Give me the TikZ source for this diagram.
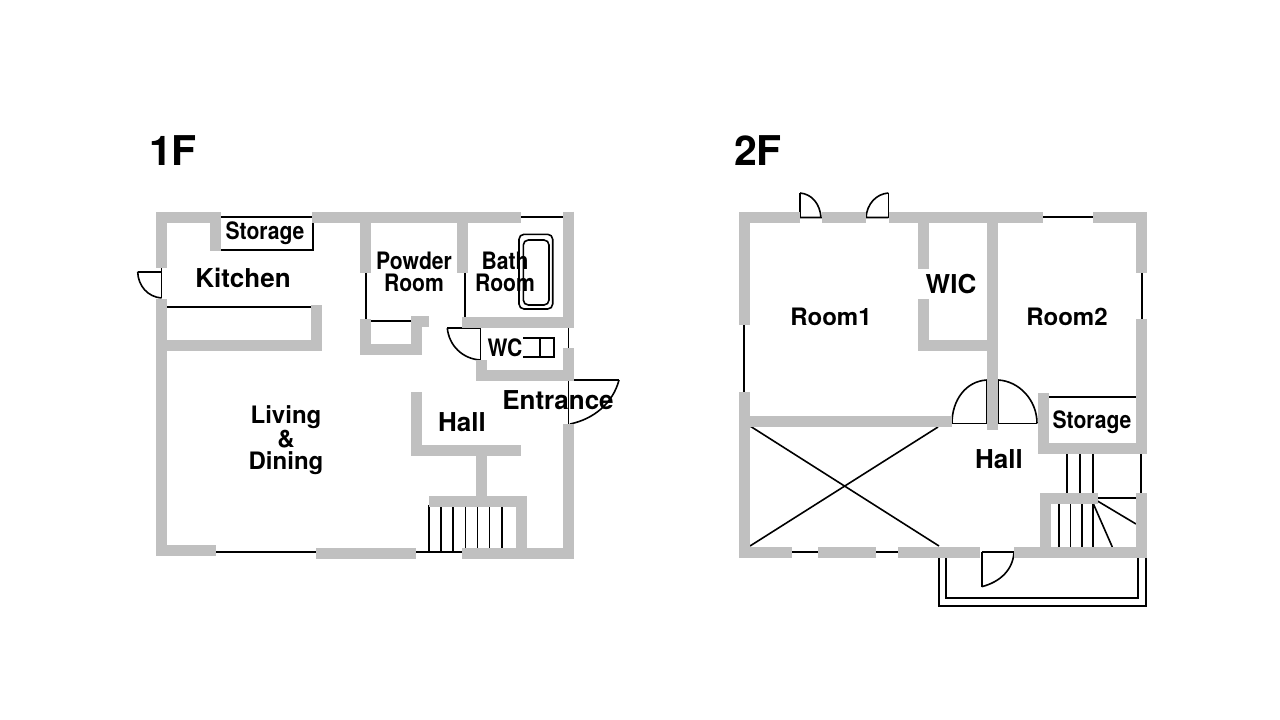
\documentclass[tikz,border=0pt]{standalone}
\usepackage{fontspec}
\setmainfont{TeX Gyre Heros}
\definecolor{wallgray}{RGB}{192,192,192}
\tikzset{wall/.style={draw=wallgray,line width=11pt},
         thin/.style={draw=black,line width=1.6pt},
         room/.style={font=\bfseries\fontsize{24}{22}\selectfont,align=center,inner sep=0pt},
         bigroom/.style={font=\bfseries\fontsize{26}{26}\selectfont,align=center,inner sep=0pt},
         small/.style={font=\bfseries\fontsize{24}{22}\selectfont,align=center,inner sep=0pt,xscale=.88},
         title/.style={font=\bfseries\fontsize{41}{41}\selectfont,inner sep=0pt}}
\begin{document}
\begin{tikzpicture}[x=1pt,y=-1pt]
\useasboundingbox (0,0) rectangle (1280,720);
% 1F thin lines
\draw[thin] (221,217) -- (313,217) -- (313,250) -- (221,250);
\draw[thin] (161.5,268) -- (161.5,298) (137.7,271.7) -- (161.5,271.7);
\draw[thin] (137.7,271.7) .. controls (138,286) and (148,297) .. (161.5,298);
\draw[thin] (167,306.7) -- (311,306.7);
\draw[thin] (366,272) -- (366,320) (370,320.7) -- (411,320.7);
\draw[thin] (465,272) -- (465,317) (521,217) -- (563,217);
\draw[thin] (447.3,328) -- (480.5,328) -- (480.5,360);
\draw[thin] (447.3,328) .. controls (449,346) and (463,359) .. (480.5,360);
\draw[thin] (568.3,327) -- (568.3,348) (568.3,381) -- (568.3,424);
\draw[thin] (568.3,380) -- (619,380);
\draw[thin] (619,380) .. controls (613,403) and (594,419) .. (570,424);
\draw[thin] (216,551.7) -- (316,551.7) (416,551.7) -- (462,551.7);
\foreach \sx in {429,441,453,465.5,477.5,489.5,502} \draw[thin] (\sx,505) -- (\sx,552);
% tub and toilet
\draw[thin,rounded corners=5pt] (519,234.3) rectangle (552.7,309);
\draw[thin,rounded corners=5pt] (523.3,240) rectangle (549,305);
\draw[thin] (523,338) -- (554,338) -- (554,357) -- (523,357) (540,338) -- (540,357);
% 1F walls
\draw[wall] (161.5,267.7) -- (161.5,217.5) -- (221,217.5);
\draw[wall] (215.5,217.5) -- (215.5,251);
\draw[wall] (312,217.5) -- (521,217.5);
\draw[wall] (161.5,299) -- (161.5,550) -- (216,550);
\draw[wall] (161.5,345.5) -- (316.5,345.5) -- (316.5,305);
\draw[wall] (365,217.5) -- (365,272.7);
\draw[wall] (462,217.5) -- (462,272.7);
\draw[wall] (365,319.3) -- (365,349) -- (416,349) -- (416,321) -- (429,321);
\draw[wall] (568.5,211.7) -- (568.5,322) -- (461.7,322);
\draw[wall] (568.5,348) -- (568.5,375.5) -- (481.5,375.5) -- (481.5,360);
\draw[wall] (568.5,424) -- (568.5,553) -- (461.7,553);
\draw[wall] (316,553.5) -- (416,553.5);
\draw[wall] (416,392.3) -- (416,450.5) -- (521,450.5);
\draw[wall] (481.5,450.5) -- (481.5,501.5);
\draw[wall] (429,501.5) -- (521,501.5) -- (521,553);
% 2F thin lines
\draw[thin] (800,217.5) -- (800,193);
\draw[thin] (800,193) .. controls (812,194) and (820,204) .. (821,217.5) -- (800,217.5);
\draw[thin] (888.3,217.5) -- (888.3,193);
\draw[thin] (888.3,193) .. controls (876,194) and (867,204) .. (866,217.5) -- (888.3,217.5);
\draw[thin] (1043,217) -- (1093,217) (744,325) -- (744,392);
\draw[thin] (1141.7,272) -- (1141.7,320) (1048,396.7) -- (1136,396.7);
\draw[thin] (987,380) -- (987,423.3) -- (952,423.3);
\draw[thin] (987,380) .. controls (966,381) and (952,400) .. (952,423.3);
\draw[thin] (998,380) -- (998,423.3) -- (1037,423.3);
\draw[thin] (998,380) .. controls (1019,381) and (1037,400) .. (1037,423.3);
\foreach \sx in {1066.7,1080,1093} \draw[thin] (\sx,453) -- (\sx,493);
\draw[thin] (1141,453) -- (1141,493) (1098,497.7) -- (1136,497.7);
\foreach \sx in {1059,1070.3,1081.7,1093} \draw[thin] (\sx,503) -- (\sx,547);
\draw[thin] (1097,500.7) -- (1136,524) (1093,503) -- (1112.3,547);
\draw[thin] (981.7,552) -- (1014,552) (981.7,552) -- (981.7,586.7);
\draw[thin] (1014,552) .. controls (1013,570) and (1000,582) .. (981.7,586.7);
\draw[thin] (939,557) -- (939,606) -- (1145.7,606) -- (1145.7,557);
\draw[thin] (946,557) -- (946,598) -- (1138,598) -- (1138,557);
\draw[thin] (750,426) -- (939,546) (750,546) -- (938,427);
\draw[thin] (792,552) -- (818,552) (876,552) -- (898,552);
% 2F walls
\draw[wall] (744,325) -- (744,217.3) -- (800,217.3);
\draw[wall] (822.3,217.3) -- (866,217.3);
\draw[wall] (888.7,217.3) -- (1043,217.3);
\draw[wall] (1093,217.3) -- (1141.5,217.3) -- (1141.5,272.7);
\draw[wall] (923,217.3) -- (923,269.3);
\draw[wall] (923,299) -- (923,345.5) -- (992.5,345.5);
\draw[wall] (992.5,217.3) -- (992.5,430);
\draw[wall] (744,392) -- (744,552) -- (792,552);
\draw[wall] (744,421) -- (952,421);
\draw[wall] (818,552) -- (876,552);
\draw[wall] (898,552) -- (980,552);
\draw[wall] (1141.5,319.3) -- (1141.5,448) -- (1043,448) -- (1043,392.7);
\draw[wall] (1098,498) -- (1045.5,498) -- (1045.5,552);
\draw[wall] (1014,552) -- (1141.5,552) -- (1141.5,493);
% labels
\node[title] (title1) at (173,151) {1F};
\node[title] (title2) at (758,151) {2F};
\node[small] (storage1) at (265,233) {Storage};
\node[bigroom] (kitchen) at (243,278) {Kitchen};
\node[small] (powder) at (414,272) {Powder\\Room};
\node[small] (bath) at (505,272) {Bath\\Room};
\node[small] (wc) at (505,348) {WC};
\node[bigroom] (entrance) at (558,400) {Entrance};
\node[bigroom] (hall1) at (462,422) {Hall};
\node[room] (living) at (286,440) {Living\\\&\\Dining};
\node[bigroom] (wic) at (951,284) {WIC};
\node[room] (room1) at (831,317) {Room1};
\node[room] (room2) at (1067,317) {Room2};
\node[small] (storage2) at (1092,422) {Storage};
\node[bigroom] (hall2) at (999,459) {Hall};
\end{tikzpicture}
\end{document}
